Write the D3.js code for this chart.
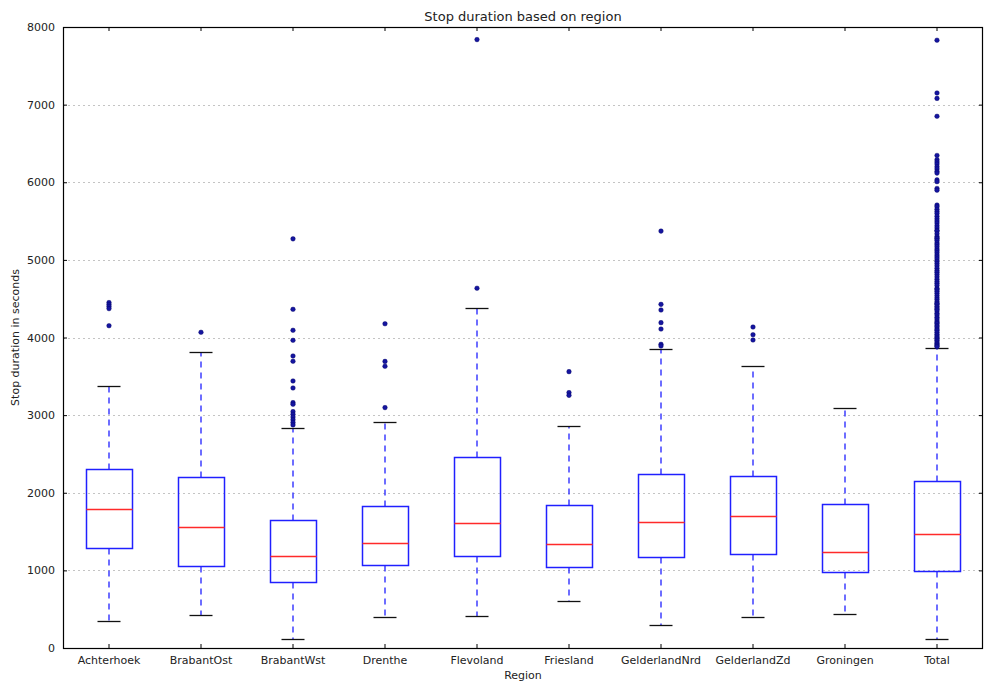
<!DOCTYPE html>
<html>
<head>
<meta charset="utf-8">
<script src="https://cdn.jsdelivr.net/npm/d3@7"></script>
<style>
  html, body { margin: 0; padding: 0; background: #ffffff; }
  svg text { font-family: "DejaVu Sans", sans-serif; fill: #222; }
</style>
</head>
<body>
<svg id="chart" width="984" height="682"></svg>
<script>
// Region names along the x axis
const regions = ["Achterhoek", "BrabantOst", "BrabantWst", "Drenthe", "Flevoland",
                 "Friesland", "GelderlandNrd", "GelderlandZd", "Groningen", "Total"];

// Five-number summaries per region (seconds)
const whiskerLow  = [342, 429, 111, 394, 410, 600, 296, 399, 441, 111];
const q1          = [1291, 1059, 844, 1074, 1190, 1042, 1171, 1205, 973, 986];
const medians     = [1789, 1561, 1188, 1358, 1606, 1346, 1629, 1703, 1243, 1471];
const q3          = [2304, 2201, 1647, 1832, 2464, 1844, 2243, 2218, 1857, 2149];
const whiskerHigh = [3376, 3810, 2835, 2912, 4377, 2861, 3852, 3637, 3089, 3869];

// Points beyond the whiskers
const outliers = [
  [4450, 4425, 4400, 4372, 4152],
  [4067],
  [5271, 4363, 4093, 3964, 3762, 3694, 3440, 3350, 3161, 3140, 3045, 3010, 2975, 2940, 2905, 2874],
  [4177, 3692, 3629, 3097],
  [7838, 4635],
  [3560, 3290, 3255],
  [5371, 4427, 4354, 4191, 4109, 3912, 3890],
  [4135, 4036, 3968],
  [],
  [7830, 7150, 7080, 6850, 6345, 6290, 6262, 6235, 6200, 6172, 6140, 6118, 6030, 6008,
   5920, 5898, 5706, 5684, 5651, 5622, 5598, 5563, 5531, 5502, 5474, 5441, 5412, 5380,
   5371, 5336, 5302, 5281, 5271, 5248, 5219, 5196, 5170, 5141, 5118, 5092, 5063, 5038,
   5012, 4981, 4953, 4924, 4893, 4862, 4840, 4812, 4781, 4752, 4723, 4698, 4671, 4635,
   4618, 4597, 4571, 4540, 4512, 4488, 4460, 4441, 4427, 4402, 4380, 4363, 4341, 4312,
   4290, 4262, 4238, 4211, 4191, 4177, 4152, 4135, 4109, 4093, 4067, 4042, 4020, 4001,
   3982, 3964, 3941, 3922, 3905, 3892, 3880]
];

const yTicks = [0, 1000, 2000, 3000, 4000, 5000, 6000, 7000, 8000];

const titleText = "Stop duration based on region";
const xLabel = "Region";
const yLabel = "Stop duration in seconds";

const margin = { left: 63, right: 1, top: 27, bottom: 34 };
const W = 984, H = 682;
const plotW = W - margin.left - margin.right;
const plotH = H - margin.top - margin.bottom;

const svg = d3.select("#chart");
const g = svg.append("g").attr("transform", `translate(${margin.left},${margin.top})`);

const x = d3.scaleBand().domain(regions).range([0, plotW]).paddingInner(0).paddingOuter(0);
const y = d3.scaleLinear().domain([0, 8000]).range([plotH, 0]);

// Pixel-snapped helper for crisp horizontal strokes
const sy = v => Math.round(y(v)) + 0.5;

const boxW = Math.round(x.bandwidth() * 0.5);
const capW = Math.round(boxW * 0.5);

const BLUE = "#2020ff";

// Horizontal dotted grid
g.append("g").selectAll("line").data(yTicks.slice(1, -1)).join("line")
  .attr("x1", 0).attr("x2", plotW)
  .attr("y1", d => sy(d)).attr("y2", d => sy(d))
  .attr("stroke", "#c4c4c4").attr("stroke-width", 1).attr("stroke-dasharray", "2,3");

// Axes: ticks pointing inward, mirrored on the opposite sides
const yAxis = d3.axisLeft(y).tickValues(yTicks).tickSize(-4).tickPadding(8).tickFormat(d3.format("d"));
const xAxis = d3.axisBottom(x).tickSize(-4).tickPadding(8);

const gy = g.append("g").call(yAxis);
const gx = g.append("g").attr("transform", `translate(0,${plotH})`).call(xAxis);
g.append("g").call(d3.axisTop(x).tickSize(-4).tickFormat(""));
g.append("g").attr("transform", `translate(${plotW},0)`).call(d3.axisRight(y).tickValues(yTicks).tickSize(-4).tickFormat(""));

g.selectAll(".domain").remove();
g.selectAll(".tick line").attr("stroke", "#000");
[gx, gy].forEach(a => a.selectAll("text").attr("font-size", 11).attr("fill", "#222"));

// Boxes, whiskers, caps, medians
const boxes = g.append("g").selectAll("g").data(regions).join("g")
  .attr("transform", d => `translate(${Math.round(x(d) + x.bandwidth() / 2)},0)`);

boxes.append("line")
  .attr("x1", 0).attr("x2", 0)
  .attr("y1", (d, i) => sy(q3[i])).attr("y2", (d, i) => sy(whiskerHigh[i]))
  .attr("stroke", BLUE).attr("stroke-width", 1.3).attr("stroke-dasharray", "6,5");
boxes.append("line")
  .attr("x1", 0).attr("x2", 0)
  .attr("y1", (d, i) => sy(q1[i])).attr("y2", (d, i) => sy(whiskerLow[i]))
  .attr("stroke", BLUE).attr("stroke-width", 1.3).attr("stroke-dasharray", "6,5");

boxes.append("line")
  .attr("x1", -capW / 2).attr("x2", capW / 2)
  .attr("y1", (d, i) => sy(whiskerHigh[i])).attr("y2", (d, i) => sy(whiskerHigh[i]))
  .attr("stroke", "#111").attr("stroke-width", 1.3);
boxes.append("line")
  .attr("x1", -capW / 2).attr("x2", capW / 2)
  .attr("y1", (d, i) => sy(whiskerLow[i])).attr("y2", (d, i) => sy(whiskerLow[i]))
  .attr("stroke", "#111").attr("stroke-width", 1.3);

boxes.append("rect")
  .attr("x", -boxW / 2 + 0.5).attr("width", boxW)
  .attr("y", (d, i) => sy(q3[i])).attr("height", (d, i) => sy(q1[i]) - sy(q3[i]))
  .attr("fill", "none").attr("stroke", BLUE).attr("stroke-width", 1.5);

boxes.append("line")
  .attr("x1", -boxW / 2 + 0.5).attr("x2", boxW / 2 + 0.5)
  .attr("y1", (d, i) => sy(medians[i])).attr("y2", (d, i) => sy(medians[i]))
  .attr("stroke", "#ff2a2a").attr("stroke-width", 1.4);

// Outlier dots
boxes.each(function (d, i) {
  d3.select(this).selectAll("circle").data(outliers[i]).join("circle")
    .attr("cx", 0).attr("cy", v => y(v)).attr("r", 2.3)
    .attr("fill", "#1515a0").attr("stroke", "#000060").attr("stroke-width", 0.4);
});

// Frame
g.append("rect").attr("x", 0.5).attr("y", 0.5).attr("width", plotW - 1).attr("height", plotH)
  .attr("fill", "none").attr("stroke", "#000").attr("stroke-width", 1.2);

// Title and axis labels
svg.append("text").attr("x", margin.left + plotW / 2).attr("y", 21)
  .attr("text-anchor", "middle").attr("font-size", 13).text(titleText);
svg.append("text").attr("x", margin.left + plotW / 2).attr("y", 679)
  .attr("text-anchor", "middle").attr("font-size", 11).text(xLabel);
svg.append("text").attr("transform", `translate(19,${margin.top + plotH / 2}) rotate(-90)`)
  .attr("text-anchor", "middle").attr("font-size", 11).text(yLabel);
</script>
</body>
</html>
